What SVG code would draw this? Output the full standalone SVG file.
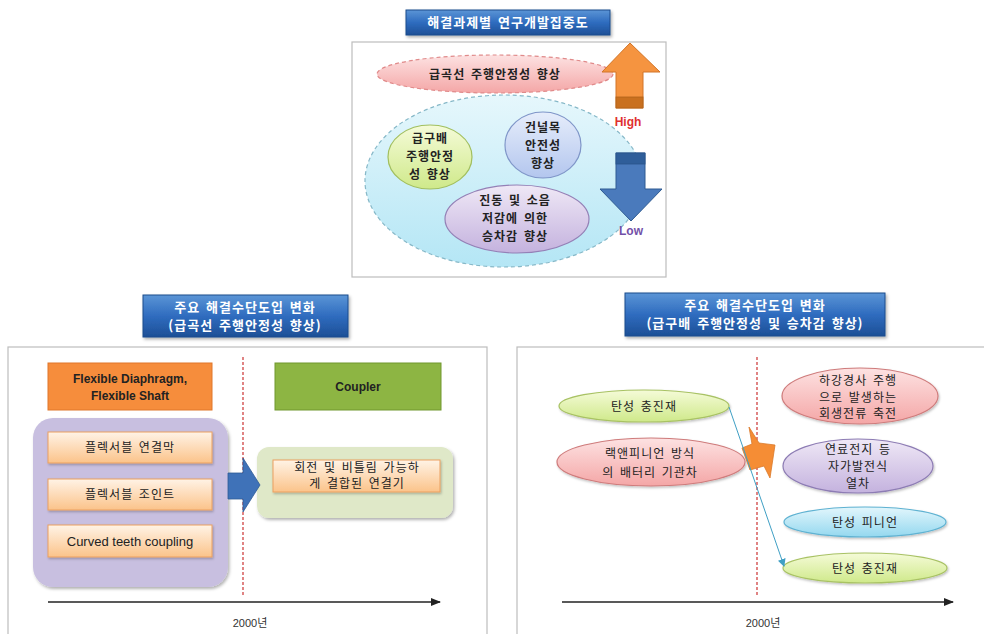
<svg xmlns="http://www.w3.org/2000/svg" width="984" height="634" viewBox="0 0 984 634">
<defs>
<style>
.kr{font-family:"Noto Sans CJK KR","Liberation Sans",sans-serif;letter-spacing:1px;word-spacing:2px;}
.en{font-family:"Liberation Sans","Noto Sans CJK KR",sans-serif;}
.title{font-size:13px;font-weight:bold;fill:#ffffff;text-anchor:middle;}
.t13{font-size:12px;fill:#222;text-anchor:middle;}
.t13b{font-size:12px;font-weight:bold;fill:#222;text-anchor:middle;}
.panel{fill:#ffffff;stroke:#bdbdbd;stroke-width:1.2;}
.vdash{stroke:#cc3333;stroke-width:1.2;stroke-dasharray:3,2;fill:none;}
.axis{stroke:#222;stroke-width:1.6;fill:none;}
.item{fill:url(#gItem);stroke:#eba060;stroke-width:1;}
</style>
<linearGradient id="gTitle" x1="0" y1="0" x2="0" y2="1"><stop offset="0" stop-color="#5b95d6"/><stop offset="0.5" stop-color="#2f6cbf"/><stop offset="1" stop-color="#1d4f96"/></linearGradient>
<linearGradient id="gItem" x1="0" y1="0" x2="0" y2="1"><stop offset="0" stop-color="#fff3e6"/><stop offset="1" stop-color="#fbc38a"/></linearGradient>
<linearGradient id="gPink" x1="0" y1="0" x2="0" y2="1"><stop offset="0" stop-color="#fde2e2"/><stop offset="1" stop-color="#f4a6a6"/></linearGradient>
<linearGradient id="gCyan" x1="0" y1="0" x2="0" y2="1"><stop offset="0" stop-color="#e6f7fc"/><stop offset="1" stop-color="#b4e6f5"/></linearGradient>
<linearGradient id="gGreen" x1="0" y1="0" x2="0" y2="1"><stop offset="0" stop-color="#f5fbd8"/><stop offset="1" stop-color="#cfe98a"/></linearGradient>
<linearGradient id="gBlue" x1="0" y1="0" x2="0" y2="1"><stop offset="0" stop-color="#e6edfb"/><stop offset="1" stop-color="#b3c6ee"/></linearGradient>
<linearGradient id="gPurple" x1="0" y1="0" x2="0" y2="1"><stop offset="0" stop-color="#efe8f6"/><stop offset="1" stop-color="#c4b2de"/></linearGradient>
<linearGradient id="gSky" x1="0" y1="0" x2="0" y2="1"><stop offset="0" stop-color="#e2f6fc"/><stop offset="1" stop-color="#94d8ef"/></linearGradient>
<filter id="sh" x="-10%" y="-20%" width="125%" height="150%"><feDropShadow dx="1.5" dy="2" stdDeviation="1.5" flood-color="#000" flood-opacity="0.3"/></filter>
<filter id="shs" x="-10%" y="-20%" width="125%" height="150%"><feDropShadow dx="1" dy="1.5" stdDeviation="1" flood-color="#000" flood-opacity="0.25"/></filter>
<marker id="mAxis" markerWidth="10" markerHeight="8" refX="9" refY="4" orient="auto" markerUnits="userSpaceOnUse"><path d="M0,0 L10,4 L0,8 Z" fill="#222"/></marker>
<marker id="mTeal" markerWidth="8" markerHeight="8" refX="7" refY="4" orient="auto" markerUnits="userSpaceOnUse"><path d="M0,0 L8,4 L0,8 Z" fill="#3f9fc4"/></marker>
</defs>
<rect x="0" y="0" width="984" height="634" fill="#ffffff"/>

<!-- TOP SECTION -->
<g id="top-title">
<rect x="406" y="10" width="204" height="25" fill="url(#gTitle)" stroke="#1c4a8c" stroke-width="1" filter="url(#sh)"/>
<text class="kr title" x="508" y="27">해결과제별 연구개발집중도</text>
</g>
<g id="top-panel">
<rect class="panel" x="352" y="42" width="314" height="235"/>
</g>
<g id="node-curve">
<ellipse cx="495" cy="74" rx="118" ry="19" fill="url(#gPink)" stroke="#e08a8a" stroke-width="1.2" stroke-dasharray="4,3"/>
<text class="kr t13b" x="495" y="79" font-size="12.5">급곡선 주행안정성 향상</text>
</g>
<g id="node-group">
<ellipse cx="504" cy="181" rx="139" ry="86" fill="url(#gCyan)" stroke="#86b8c8" stroke-width="1.2" stroke-dasharray="4,3"/>
</g>
<g id="node-gradient">
<ellipse cx="430" cy="157" rx="42" ry="32" fill="url(#gGreen)" stroke="#a2bf5e" stroke-width="1.2"/>
<text class="kr t13b" x="430" y="143">급구배</text>
<text class="kr t13b" x="430" y="161">주행안정</text>
<text class="kr t13b" x="430" y="179">성 향상</text>
</g>
<g id="node-crossing">
<ellipse cx="543" cy="145" rx="38" ry="33" fill="url(#gBlue)" stroke="#7f95c8" stroke-width="1.2"/>
<text class="kr t13b" x="543" y="132">건널목</text>
<text class="kr t13b" x="543" y="150">안전성</text>
<text class="kr t13b" x="543" y="168">향상</text>
</g>
<g id="node-vibration">
<ellipse cx="517" cy="219" rx="72" ry="34" fill="url(#gPurple)" stroke="#9480b6" stroke-width="1.2"/>
<text class="kr t13b" x="515" y="205">진동 및 소음</text>
<text class="kr t13b" x="515" y="223">저감에 의한</text>
<text class="kr t13b" x="515" y="241">승차감 향상</text>
</g>
<g id="arrow-high">
<path d="M630,43 L660,72 L643,72 L643,108 L616,108 L616,72 L602,72 Z" fill="#f59440" stroke="#d27528" stroke-width="1"/>
<rect x="616" y="97" width="27" height="11" fill="#c9701f" stroke="#b0621a" stroke-width="0.8"/>
<text class="en" x="628" y="126" font-size="12" font-weight="bold" fill="#e03030" text-anchor="middle">High</text>
</g>
<g id="arrow-low">
<path d="M616,153 L645,153 L645,189 L662,189 L631,221 L600,189 L616,189 Z" fill="#4a7abc" stroke="#2e5b92" stroke-width="1"/>
<rect x="616" y="153" width="29" height="11" fill="#2f5e9a" stroke="#2a548a" stroke-width="0.8"/>
<text class="en" x="631" y="235" font-size="12" font-weight="bold" fill="#7250a8" text-anchor="middle">Low</text>
</g>

<!-- LEFT BOTTOM -->
<g id="left-title">
<rect x="143" y="295" width="205" height="42" fill="url(#gTitle)" stroke="#1c4a8c" stroke-width="1" filter="url(#sh)"/>
<text class="kr title" x="245" y="312">주요 해결수단도입 변화</text>
<text class="kr title" x="245" y="330">(급곡선 주행안정성 향상)</text>
</g>
<g id="left-panel">
<rect class="panel" x="8" y="347" width="479" height="300"/>
<line class="vdash" x1="243" y1="357" x2="243" y2="596"/>
</g>
<g id="node-flex-header">
<rect x="48" y="363" width="164" height="47" fill="#f68d3c" stroke="#e0762a" stroke-width="1"/>
<text class="en" x="130" y="383" font-size="12" font-weight="bold" fill="#222" text-anchor="middle">Flexible Diaphragm,</text>
<text class="en" x="130" y="400" font-size="12" font-weight="bold" fill="#222" text-anchor="middle">Flexible Shaft</text>
</g>
<g id="node-coupler-header">
<rect x="275" y="363" width="166" height="47" fill="#8db543" stroke="#71972f" stroke-width="1"/>
<text class="en" x="358" y="391" font-size="12" font-weight="bold" fill="#222" text-anchor="middle">Coupler</text>
</g>
<g id="node-old-group">
<rect x="33" y="418" width="195" height="169" rx="20" ry="20" fill="#c8bfe0" filter="url(#sh)"/>
</g>
<g id="node-item1">
<rect class="item" x="48" y="432" width="164" height="31" filter="url(#shs)"/>
<text class="kr t13" x="130" y="452">플렉서블 연결막</text>
</g>
<g id="node-item2">
<rect class="item" x="48" y="479" width="164" height="31" filter="url(#shs)"/>
<text class="kr t13" x="130" y="499">플렉서블 조인트</text>
</g>
<g id="node-item3">
<rect class="item" x="48" y="525" width="164" height="32" filter="url(#shs)"/>
<text class="en" x="130" y="546" font-size="13" fill="#222" text-anchor="middle">Curved teeth coupling</text>
</g>
<g id="node-new-group">
<rect x="257" y="447" width="196" height="71" rx="12" ry="12" fill="#dfe8c8" filter="url(#sh)"/>
</g>
<g id="node-coupler">
<rect class="item" x="273" y="460" width="167" height="32" filter="url(#shs)"/>
<text class="kr t13" x="357" y="472">회전 및 비틀림 가능하</text>
<text class="kr t13" x="357" y="488">게 결합된 연결기</text>
</g>

<!-- RIGHT BOTTOM -->
<g id="right-title">
<rect x="625" y="293" width="260" height="43" fill="url(#gTitle)" stroke="#1c4a8c" stroke-width="1" filter="url(#sh)"/>
<text class="kr title" x="755" y="310">주요 해결수단도입 변화</text>
<text class="kr title" x="755" y="328">(급구배 주행안정성 및 승차감 향상)</text>
</g>
<g id="right-panel">
<rect class="panel" x="517" y="347" width="480" height="300"/>
<line class="vdash" x1="757" y1="357" x2="757" y2="596"/>
</g>
<g id="node-elastic-old">
<ellipse cx="644" cy="406" rx="85" ry="16" fill="url(#gGreen)" stroke="#a8c263" stroke-width="1.2" filter="url(#shs)"/>
<text class="kr t13" x="644" y="411">탄성 충진재</text>
</g>
<g id="node-rack">
<ellipse cx="651" cy="462" rx="94" ry="24" fill="url(#gPink)" stroke="#cf7c7c" stroke-width="1.2" filter="url(#shs)"/>
<text class="kr t13" x="650" y="458">랙앤피니언 방식</text>
<text class="kr t13" x="650" y="477">의 배터리 기관차</text>
</g>
<g id="node-regen">
<ellipse cx="860" cy="396" rx="78" ry="28" fill="url(#gPink)" stroke="#cf7c7c" stroke-width="1.2" filter="url(#shs)"/>
<text class="kr t13" x="858" y="385">하강경사 주행</text>
<text class="kr t13" x="858" y="402">으로 발생하는</text>
<text class="kr t13" x="858" y="418">회생전류 축전</text>
</g>
<g id="node-fuelcell">
<ellipse cx="858" cy="466" rx="75" ry="27" fill="url(#gPurple)" stroke="#8d7cb4" stroke-width="1.2" filter="url(#shs)"/>
<text class="kr t13" x="858" y="454">연료전지 등</text>
<text class="kr t13" x="858" y="471">자가발전식</text>
<text class="kr t13" x="858" y="488">열차</text>
</g>
<g id="node-pinion">
<ellipse cx="865" cy="522" rx="81" ry="15" fill="url(#gSky)" stroke="#5eb2d2" stroke-width="1.2" filter="url(#shs)"/>
<text class="kr t13" x="865" y="527">탄성 피니언</text>
</g>
<g id="node-elastic-new">
<ellipse cx="865" cy="568" rx="82" ry="15" fill="url(#gGreen)" stroke="#a8c263" stroke-width="1.2" filter="url(#shs)"/>
<text class="kr t13" x="865" y="573">탄성 충진재</text>
</g>

<!-- CONNECTORS -->
<g id="connectors">
<line class="axis" x1="48" y1="602" x2="440" y2="602" marker-end="url(#mAxis)"/>
<line class="axis" x1="562" y1="602" x2="953" y2="602" marker-end="url(#mAxis)"/>
<path d="M228,473 L243,473 L243,458 L260,485 L243,512 L243,499 L228,499 Z" fill="#3f72b8" stroke="#2d5a94" stroke-width="0.8"/>
<path d="M749,427 L759,443 L775,445 L770,478 L764,466 L750,470 L742,448 L752,444 Z" fill="#f58d35" stroke="#d9782a" stroke-width="0.8"/>
<line x1="729" y1="407" x2="784" y2="566" stroke="#3f9fc4" stroke-width="1" marker-end="url(#mTeal)"/>
</g>

<g id="labels">
<text class="en" x="250" y="627" font-size="11" fill="#333" text-anchor="middle">2000년</text>
<text class="en" x="763" y="627" font-size="11" fill="#333" text-anchor="middle">2000년</text>
</g>
</svg>
